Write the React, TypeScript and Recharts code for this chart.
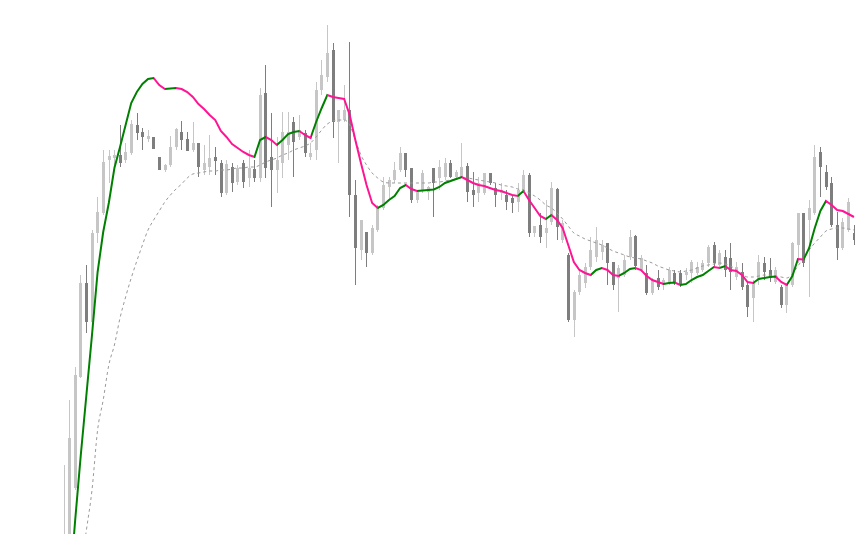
import React from 'react';
import { ComposedChart, Bar, Line, XAxis, YAxis } from 'recharts';

// candle prices, oldest first
const opens = [80,100,212,323,417,378,467,487,540,542,545,540,547,575,568,561,563,543,530,535,553,568,561,550,557,530,533,543,537,507,533,518,537,522,531,522,607,543,530,537,555,578,563,567,543,550,610,623,650,578,580,590,505,450,468,447,470,492,513,520,530,547,532,500,510,508,532,522,523,537,523,523,534,510,507,507,527,512,507,505,502,498,510,525,467,475,467,478,511,460,445,380,408,417,433,443,448,457,438,422,425,443,464,430,427,407,422,415,418,427,427,425,427,427,430,437,455,435,443,442,423,428,415,402,420,437,430,418,413,395,415,455,487,480,487,548,528,517,475,452,470,467];
const highs = [235,300,333,425,435,470,503,550,550,550,575,557,580,587,572,570,563,543,536,564,572,579,568,578,557,555,565,553,540,540,537,535,540,550,540,612,635,587,563,588,588,583,585,570,557,618,640,675,657,590,615,658,520,480,468,475,495,523,523,538,553,547,532,510,530,514,532,540,542,540,530,557,537,528,523,527,527,517,517,510,505,517,530,527,474,487,500,518,512,480,447,410,430,437,463,473,460,457,438,435,445,470,465,445,435,422,430,422,433,430,430,432,440,438,440,455,458,450,450,457,438,437,417,420,445,443,442,433,415,415,458,487,487,500,555,553,535,523,488,482,502,475];
const lows = [70,90,210,322,367,377,457,485,517,535,533,537,545,560,550,558,551,530,528,533,550,550,549,548,523,525,525,525,503,505,508,515,512,513,518,518,522,493,507,522,540,523,560,543,540,540,605,618,562,537,578,483,415,440,433,445,468,490,500,517,528,523,497,497,507,500,483,510,520,522,521,522,498,493,498,505,515,493,500,490,487,488,508,463,463,457,452,475,460,457,378,363,405,412,430,438,440,415,410,388,423,440,430,428,405,405,410,410,415,415,413,420,417,425,428,433,433,432,423,410,420,410,383,378,415,420,418,416,392,387,413,437,433,403,485,503,510,473,440,450,468,455];
const closes = [155,262,325,417,378,467,488,538,544,545,537,548,576,567,563,564,551,530,535,553,571,560,549,557,533,537,542,539,507,536,517,532,518,532,522,605,532,530,540,568,568,558,570,547,547,610,625,647,578,590,590,505,452,480,447,472,492,515,520,530,547,530,500,508,527,513,517,533,537,523,528,533,508,505,517,527,517,505,510,498,497,510,525,467,474,463,472,512,473,477,380,408,425,433,450,460,455,437,415,432,440,463,434,442,407,420,413,420,430,418,415,428,438,433,437,453,437,447,430,428,433,413,393,418,438,428,422,430,395,415,457,487,437,492,543,533,513,475,452,478,498,460];

// fast average (coloured by direction) and slow average (dashed)
const fastMa = [60,110,180,245,305,365,428,468,497,532,553,575,597,608,616,621,622,615,611,611.5,612,611,608,603,596,591,585,580,569,563,556,552,548,545,543,560,563,560,555,560,566,568,569,565,562,578,592,605,603,602,601,585,560,537,515,497,492,495,500,504,512,515,511,509,509.5,510,510.5,513,517,519,521,523,520,517,515,514,512,510,509,507,505,504,509,500,492,484,481,485,480,472,455,438,430,427,425,430,432,430,425,424,427,431,432,430,424,420,418,416,417,417.5,415,416,420,423,425,429,433,432,434,430,429,425,418,417,421,422,423,423.5,418,415,424,441,440.5,452,472,489,499,495,490,489,486,483];
const slowMa = [10,50,90,132,170,210,270,300,335,355,382,403,422,439,455,470,480,489,498,505,511,516,522,526,527,528,529,529,530,530,531,532,532,533,533,535,538,540,542,545,547,550,552,554,557,563,570,576,579,580,580,575,560,545,535,527,522,518,517,517,517,517,517,517,517,517,518,518,519,520,521,522,522,521,520,519,518,517,515,514,513,511,510,507,504,500,495,492,487,481,474,467,464,461,459,457,455,452,449,447,445,443,442,441,439,437,434,432,430,429,428,429,430,432,434,435,436,437,436,434,430,426,423,423,424,425,425,424,423,422,426,434,442,450,457,463,469,471,472,472,471,470];

const BULL = '#c6c6c6';
const BEAR = '#7e7e7e';
const UP = '#008000';
const DOWN = '#ff1493';

const data = opens.map((o, i) => ({
  i,
  range: [lows[i], highs[i]],
  open: o,
  high: highs[i],
  low: lows[i],
  close: closes[i],
  fast: fastMa[i],
  slow: slowMa[i],
}));

function Candle(props: any) {
  const { x, y, width, height, payload } = props;
  if (x == null || y == null) return null;
  const { open, close, high, low } = payload;
  const top = Math.min(y, y + height);
  const h = Math.abs(height);
  const k = h / (high - low || 1);
  const bodyTop = top + (high - Math.max(open, close)) * k;
  const bodyH = Math.max(1, Math.abs(open - close) * k);
  const color = close >= open ? BULL : BEAR;
  const cx = Math.round(x + width / 2) + 0.5;
  return (
    <g>
      <line x1={cx} x2={cx} y1={top} y2={top + h} stroke={color} strokeWidth={1} />
      <rect x={cx - 1.5} y={bodyTop} width={3} height={bodyH} fill={color} />
    </g>
  );
}

export default function App() {
  const n = fastMa.length;
  const stops: React.ReactNode[] = [];
  for (let k = 1; k < n; k++) {
    const c = fastMa[k] >= fastMa[k - 1] ? UP : DOWN;
    stops.push(<stop key={'a' + k} offset={(k - 1) / (n - 1)} stopColor={c} />);
    stops.push(<stop key={'b' + k} offset={k / (n - 1)} stopColor={c} />);
  }
  return (
    <div style={{ position: 'absolute', left: 0, top: 0, width: 855, height: 534, background: '#fff' }}>
      <ComposedChart width={855} height={534} data={data} margin={{ top: 0, right: 0, bottom: 0, left: 0 }}>
        <defs>
          <linearGradient id="maGrad" x1="0" y1="0" x2="1" y2="0">
            {stops}
          </linearGradient>
        </defs>
        <XAxis dataKey="i" type="number" domain={[-11.42, 141.18]} hide allowDataOverflow />
        <YAxis type="number" domain={[166, 700]} hide allowDataOverflow />
        <Bar dataKey="range" barSize={3} shape={<Candle />} isAnimationActive={false} />
        <Line dataKey="slow" type="monotone" stroke="#9a9a9a" strokeWidth={1} strokeDasharray="3 3" dot={false} activeDot={false} isAnimationActive={false} />
        <Line dataKey="fast" type="linear" stroke="url(#maGrad)" strokeWidth={2} dot={false} activeDot={false} isAnimationActive={false} />
      </ComposedChart>
    </div>
  );
}
